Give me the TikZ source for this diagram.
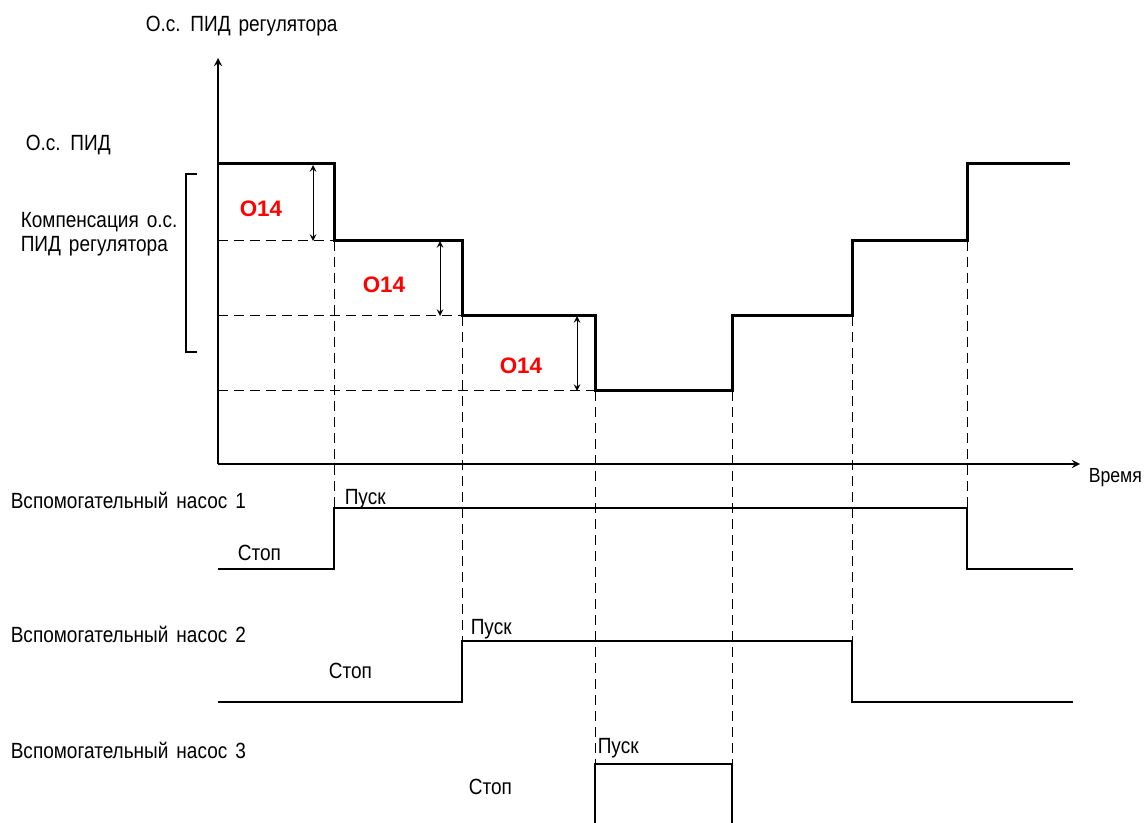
\documentclass[tikz,border=0pt]{standalone}
\usepackage{fontspec}
\setmainfont{Liberation Sans}[FakeStretch=0.865,WordSpace=1.5]
\newfontfamily\markfont{Liberation Sans}
\begin{document}
\begin{tikzpicture}[x=0.5pt, y=-0.5pt, line width=0.8pt, >=stealth,
  every node/.style={inner sep=0pt, anchor=base west, font=\fontsize{11}{12}\selectfont},
  level/.style={line width=1.5pt},
  guide/.style={line width=0.5pt, dash pattern=on 5pt off 3pt},
  dim/.style={<->, line width=0.5pt},
  deltalabel/.style={text=red, font=\markfont\bfseries\fontsize{11.2}{12}\selectfont}]
  \useasboundingbox (0,0) rectangle (1145,823);
  % оси
  \coordinate (o) at (218,464);
  \draw[->] (o) -- (218,58);
  \draw[->] (o) -- (1080,464);
  \node (title) at (145,32) {О.с. ПИД регулятора};
  \node[font=\fontsize{10.2}{12}\selectfont] (time) at (1088,482) {Время};
  \node (pv) at (25,151) {О.с. ПИД};
  \node[align=left] (comp) at (20,252) {Компенсация о.с.\\ПИД регулятора};
  % скобка
  \draw[line width=0.6pt] (197,174) -- (186,174) -- (186,352) -- (197,352);
  % о.с. ПИД регулятора
  \draw[level] (218,164) -| (334,241) -| (462,316) -| (595,391) -| (732,316) -| (852,241) -| (967,164) -- (1070,164);
  % пунктир
  \draw[guide] (218,241) -- (334,241);
  \draw[guide] (218,316) -- (462,316);
  \draw[guide] (218,391) -- (595,391);
  \draw[guide] (334,241) -- (334,508);
  \draw[guide] (462,316) -- (462,641);
  \draw[guide] (595,391) -- (595,764);
  \draw[guide] (732,391) -- (732,764);
  \draw[guide] (852,316) -- (852,641);
  \draw[guide] (967,241) -- (967,508);
  % O14
  \draw[dim] (313,165) -- (313,241);
  \draw[dim] (440,241) -- (440,316);
  \draw[dim] (577,316) -- (577,391);
  \node[deltalabel] (d1) at (239,217) {O14};
  \node[deltalabel] (d2) at (362,293) {O14};
  \node[deltalabel] (d3) at (499,373) {O14};
  % насос 1
  \draw (218,569) -| (334,508) -| (967,569) -- (1073,569);
  \node (p1) at (10,508) {Вспомогательный насос 1};
  \node (run1) at (344,504) {Пуск};
  \node (stop1) at (237,560) {Стоп};
  % насос 2
  \draw (218,702) -| (462,641) -| (852,702) -- (1073,702);
  \node (p2) at (10,642) {Вспомогательный насос 2};
  \node (run2) at (470,634) {Пуск};
  \node (stop2) at (328,678) {Стоп};
  % насос 3
  \draw (595,823) |- (732,764) -- (732,823);
  \node (p3) at (10,758) {Вспомогательный насос 3};
  \node (run3) at (597,753) {Пуск};
  \node (stop3) at (468,794) {Стоп};
\end{tikzpicture}
\end{document}
